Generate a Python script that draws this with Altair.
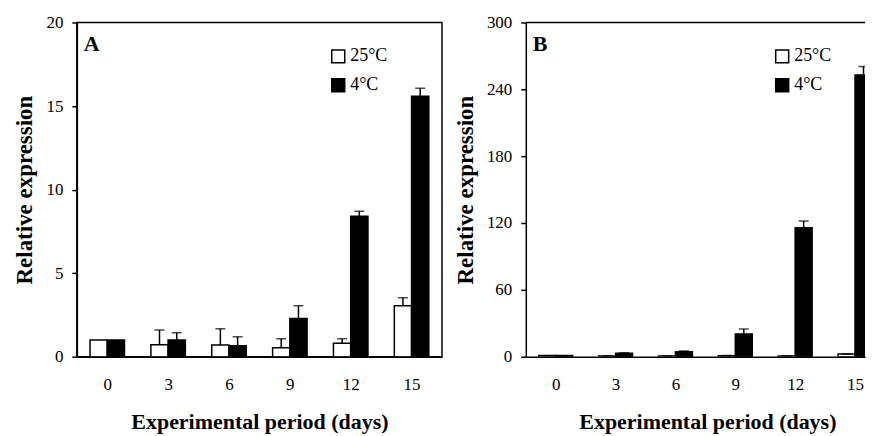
import altair as alt
import pandas as pd

days = [0, 3, 6, 9, 12, 15]
series_names = ["25°C", "4°C"]

# Panel A
a_25 = [1.0, 0.72, 0.70, 0.53, 0.80, 3.05]
a_25_err = [0.0, 0.88, 0.97, 0.54, 0.27, 0.47]
a_4 = [1.0, 1.00, 0.65, 2.28, 8.40, 15.58]
a_4_err = [0.0, 0.43, 0.55, 0.77, 0.30, 0.48]

# Panel B
b_25 = [1.0, 0.7, 0.6, 0.8, 0.6, 2.3]
b_25_err = [0.0, 0.2, 0.2, 0.2, 0.2, 0.4]
b_4 = [1.0, 3.0, 4.5, 20.3, 115.8, 252.8]
b_4_err = [0.0, 0.6, 0.6, 4.5, 6.0, 7.7]

a_ticks = [0, 5, 10, 15, 20]
b_ticks = [0, 60, 120, 180, 240, 300]

FONT = "Liberation Serif"


def make_df(v25, e25, v4, e4):
    rows = []
    for d, v, e in zip(days, v25, e25):
        rows.append({"day": d, "series": series_names[0], "value": v, "err": e})
    for d, v, e in zip(days, v4, e4):
        rows.append({"day": d, "series": series_names[1], "value": v, "err": e})
    return pd.DataFrame(rows)


def panel(df, ymax, yticks, width, xmax, letter, legx, framed, title_x=None):
    bw = 0.85
    base = alt.Chart(df).transform_calculate(
        x0=f"datum.series == '25°C' ? datum.day - {bw} : datum.day",
        x1=f"datum.series == '25°C' ? datum.day : datum.day + {bw}",
        xc=f"datum.series == '25°C' ? datum.day - {bw/2} : datum.day + {bw/2}",
        top="datum.value + datum.err",
    )
    xaxis = dict(
        values=days, title="Experimental period (days)", ticks=False,
        grid=False, labelPadding=20, titlePadding=19, labelFlush=False,
        titleFontSize=22,
    )
    if title_x is not None:
        xaxis["titleX"] = title_x
    xscale = alt.Scale(domain=[-1.5, xmax], nice=False, zero=False)
    yscale = alt.Scale(domain=[0, ymax], nice=False)

    bars = base.mark_bar(stroke="black", strokeWidth=1.5, clip=True).encode(
        x=alt.X("x0:Q", scale=xscale, axis=alt.Axis(**xaxis)),
        x2="x1:Q",
        y=alt.Y("value:Q", scale=yscale,
                axis=alt.Axis(values=yticks, title="Relative expression",
                              grid=False, tickSize=5, labelPadding=9,
                              titlePadding=9, titleFontSize=23)),
        y2=alt.datum(0),
        fill=alt.Fill("series:N",
                      scale=alt.Scale(domain=series_names, range=["white", "black"]),
                      legend=alt.Legend(title=None, orient="none",
                                        legendX=legx, legendY=25,
                                        symbolType="square", symbolSize=169,
                                        symbolStrokeColor="black",
                                        symbolStrokeWidth=1.5,
                                        labelFont=FONT, labelFontSize=18,
                                        labelColor="black", labelOffset=3,
                                        rowPadding=9, padding=0)),
    )
    eb = base.transform_filter("datum.err > 0")
    rules = eb.mark_rule(color="black", strokeWidth=1.5, clip=True).encode(
        x=alt.X("xc:Q", scale=xscale), y="value:Q", y2="top:Q")
    caps = eb.mark_tick(color="black", orient="horizontal", size=10,
                        thickness=1.5, clip=True).encode(
        x=alt.X("xc:Q", scale=xscale), y="top:Q")
    label = alt.Chart().mark_text(font=FONT, fontSize=22, fontWeight="bold",
                                  align="left", baseline="middle",
                                  color="black").encode(
        x=alt.value(7), y=alt.value(22), text=alt.datum(letter))
    layers = [bars, rules, caps, label]
    if not framed:
        top = alt.Chart().mark_rule(color="black", strokeWidth=1.5).encode(
            x=alt.value(0), x2=alt.value(width), y=alt.value(0))
        layers.append(top)
    ch = alt.layer(*layers).properties(width=width, height=335)
    if framed:
        ch = ch.properties(view=alt.ViewBackground(stroke="black", strokeWidth=1.5))
    return ch


dfa = make_df(a_25, a_25_err, a_4, a_4_err)
dfb = make_df(b_25, b_25_err, b_4, b_4_err)

pa = panel(dfa, 20, a_ticks, 366, 16.5, "A", 253, True)
pb = panel(dfb, 300, b_ticks, 340, 15.5, "B", 248, False, title_x=182)

chart = alt.hconcat(pa, pb, spacing=11).resolve_scale(
    fill="independent", x="independent", y="independent"
).resolve_legend(fill="independent").properties(
    padding={"left": 5, "top": 4, "right": 0, "bottom": 0}
).configure_view(stroke=None).configure_axis(
    labelFont=FONT, labelFontSize=17, labelColor="black",
    titleFont=FONT, titleFontSize=19, titleFontWeight="bold",
    titleColor="black", domainColor="black", domainWidth=1.5,
    tickColor="black", tickWidth=1.5,
)

chart.save("out.html", embed_options={"renderer": "svg", "actions": False})
